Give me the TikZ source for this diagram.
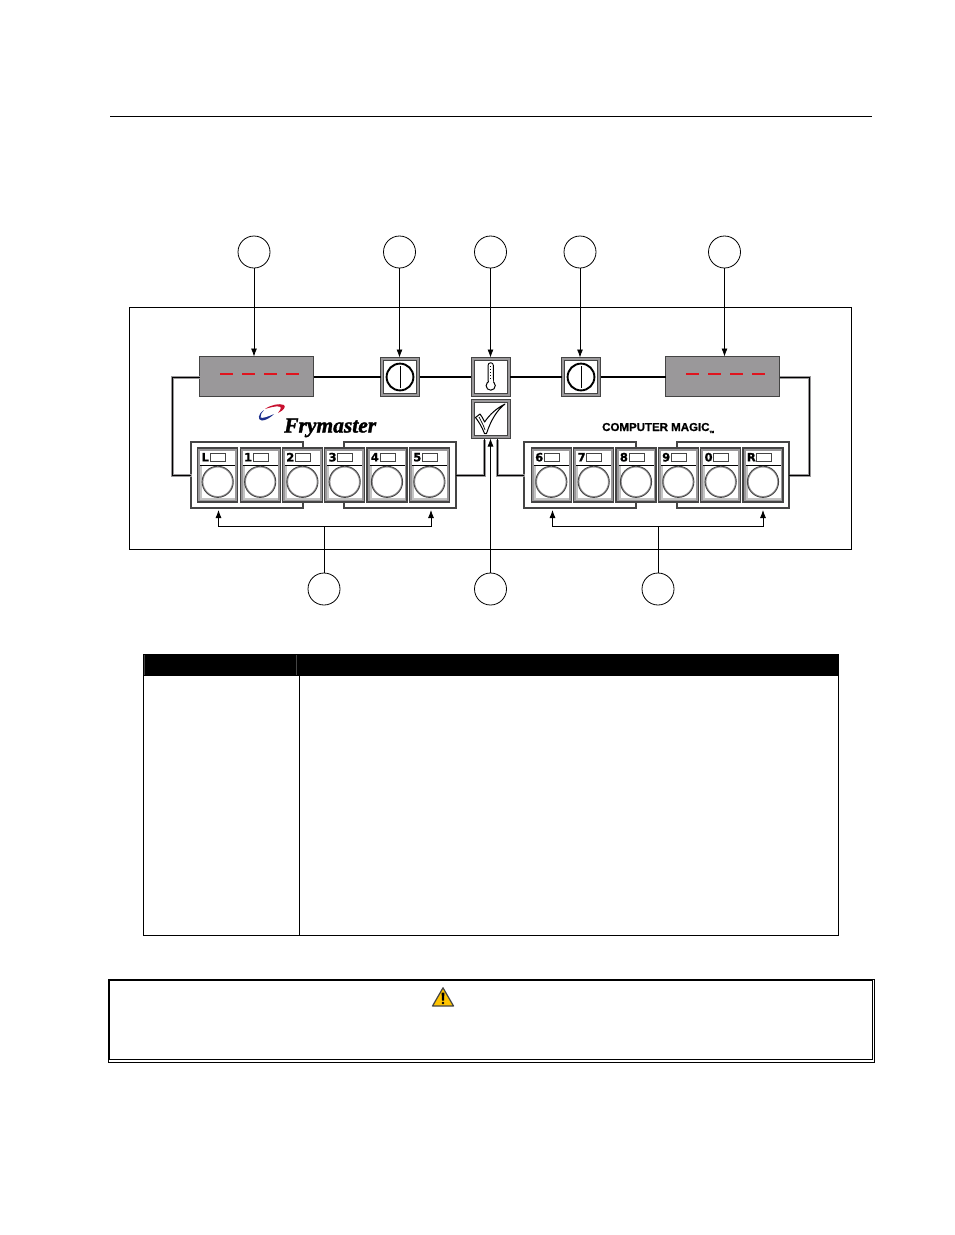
\documentclass[tikz,border=0pt]{standalone}
\usepackage{fontspec}
\usetikzlibrary{arrows.meta}
\newfontface\keyface[FakeBold=1.2]{DejaVu Sans Bold}
\newfontface\fryface[FakeBold=1.6]{Liberation Serif Bold Italic}
\newfontface\cmface[FakeBold=.8]{Liberation Sans Bold}
\definecolor{dgray}{HTML}{444444}
\definecolor{mgray}{HTML}{9A989A}
\definecolor{lgray}{HTML}{C4C4C4}
\definecolor{segred}{HTML}{E0141E}
\definecolor{fryblue}{HTML}{1C2F8C}
\definecolor{fryred}{HTML}{C8102E}
\definecolor{warnyel}{HTML}{FFC400}
\tikzset{
  callout/.style={circle,draw=black,line width=.8pt,minimum size=32pt,inner sep=0pt,outer sep=0pt,fill=white},
  display/.style={rectangle,draw=dgray,line width=1pt,fill=mgray,minimum width=114pt,minimum height=40pt,inner sep=0pt,outer sep=0pt},
  iconbox/.style={rectangle,draw=dgray,line width=1.3pt,fill=mgray,minimum width=39pt,minimum height=39pt,inner sep=0pt,outer sep=0pt},
  iconface/.style={rectangle,fill=white,draw=dgray,line width=.6pt,minimum width=32.5pt,minimum height=32.5pt,inner sep=0pt},
  keybox/.style={rectangle,draw=dgray,line width=1.1pt,fill=mgray,minimum width=40pt,minimum height=54pt,inner sep=0pt,outer sep=0pt},
  grp/.style={rectangle,draw=dgray,line width=2pt,fill=white,minimum width=112pt,minimum height=66.6pt,inner sep=0pt,outer sep=0pt},
  ptr/.style={draw=black,line width=.8pt,-{Latex[length=8pt,width=6pt]}},
  plain/.style={draw=black,line width=.8pt},
  busline/.style={draw=black,line width=1.5pt},
  conn/.style={draw=black,line width=.9pt,line join=miter,preaction={draw=mgray,line width=2.8pt,transform canvas={xshift=.5pt,yshift=-.6pt}}},
  segment/.style={draw=segred,line width=2.4pt},
}
\newcommand{\keypanel}[3]{%
  \node[keybox] (#1) at (#3+20,475) {};
  \fill[white] (#3+2.5,450.5) rectangle (#3+37.5,500);
  \fill[lgray] (#3+2.5,465.5) rectangle (#3+4.5,499.5);
  \fill[lgray] (#3+2.5,498) rectangle (#3+37.5,500);
  \draw[black,line width=.8pt] (#3+2.5,465) -- (#3+37.5,465);
  \draw[mgray,line width=1pt] (#3+20,481.8) circle[radius=14.8];
  \draw[dgray,line width=.9pt] (#3+20,481.8) circle[radius=15.6];
  \draw[dgray,line width=.6pt,fill=white] (#3+13,453) rectangle (#3+28,461);
  \node[font=\keyface\fontsize{11.5}{11.5}\selectfont,anchor=west,inner sep=0pt] (#1t) at (#3+3.7,457.2) {#2};
}
\newcommand{\powerbtn}[2]{%
  \node[iconbox] (#1) at (#2,377) {};
  \node[iconface] at (#1) {};
  \draw[black,line width=1.9pt] (#2,377) circle[radius=13.4];
  \draw[black,line width=.8pt] (#2,366) -- (#2,388);
}
\begin{document}
\begin{tikzpicture}[x=1pt,y=-1pt]
\useasboundingbox (0,0) rectangle (954,1235);
% head rule
\coordinate (ruleA) at (110,116.5);
\coordinate (ruleB) at (872,116.5);
\draw[black,line width=.9pt] (ruleA) -- (ruleB);
% panel
\node[rectangle,draw=black,line width=.9pt,minimum width=722pt,minimum height=242pt,inner sep=0pt] (panel) at (490.5,428.5) {};
% displays
\node[display] (dispL) at (256.5,376.5) {};
\node[display] (dispR) at (722.5,376.5) {};
\foreach \a in {220,242,264,286}{\draw[segment] (\a,374) -- (\a+13,374);}
\foreach \a in {686,708,730,752}{\draw[segment] (\a,374) -- (\a+13,374);}
% buttons
\powerbtn{pwrL}{400}
\powerbtn{pwrR}{581}
\node[iconbox] (therm) at (490.7,377) {};
\node[iconface] at (therm) {};
\node[iconbox] (chk) at (490.7,419) {};
\node[iconface] at (chk) {};
% thermometer
\draw[black,line width=.9pt,fill=white,rounded corners=2.4pt] (488.1,383) rectangle (493.3,362.8);
\draw[black,line width=1pt,fill=white] (490.7,385.6) circle[radius=4.6];
\fill[white] (488.8,379) rectangle (492.6,383.5);
\foreach \q in {366,369,372,375,378}{\fill[black] (490.1,\q) rectangle (491.3,\q+1);}
% check mark
\draw[black,line width=1pt,fill=white,line join=round] (475.5,417.5) -- (480,414) .. controls (481.5,416) and (483.5,419) .. (484.6,422)
  .. controls (490,414) and (497,408) .. (505,404)
  .. controls (497,410) and (491,420) .. (486.5,433.5) -- (484.5,433.5) .. controls (482,427) and (479,422) .. (475.5,417.5) -- cycle;
\draw[black,line width=.7pt] (479,417) .. controls (481,421) and (483.5,425) .. (485,430);
% key groups
\node[grp] (gL1) at (247.2,475) {};
\node[grp] (gL2) at (400.2,475) {};
\node[grp] (gR1) at (580.2,475) {};
\node[grp] (gR2) at (733.3,475) {};
\keypanel{kL}{L}{197.7}
\keypanel{kA}{1}{240.2}
\keypanel{kB}{2}{282.4}
\keypanel{kC}{3}{324.7}
\keypanel{kD}{4}{367}
\keypanel{kE}{5}{409.4}
\keypanel{kF}{6}{531.3}
\keypanel{kG}{7}{573.7}
\keypanel{kH}{8}{616}
\keypanel{kI}{9}{658.3}
\keypanel{kJ}{0}{700.7}
\keypanel{kR}{R}{743}
% logos
\fill[fryblue] (264,410) .. controls (258,414) and (257,420) .. (262,420.5) .. controls (266,420.5) and (271,417) .. (274,414) .. controls (270,416) and (262,419) .. (260.5,417.5) .. controls (260,415) and (262,412) .. (264,410) -- cycle;
\fill[fryred] (265,409) .. controls (270,405) and (280,403) .. (284,405) .. controls (286,407) and (284,410) .. (278,413) .. controls (281,409) and (282,407) .. (279,406.5) .. controls (275,406) and (270,407.5) .. (265,409) -- cycle;
\node[anchor=base west,inner sep=0pt,font=\fryface\fontsize{21.5}{21.5}\selectfont] (frylogo) at (284,432.5) {Frymaster};
\node[anchor=base west,inner sep=0pt,font=\cmface\fontsize{11.5}{11.5}\selectfont] (cmlogo) at (602,431) {COMPUTER MAGIC};
\node[anchor=base west,inner sep=0pt,font=\cmface\fontsize{3}{3}\selectfont] (cmtm) at (709.5,433) {TM};
% callouts
\node[callout] (c1) at (254,252) {};
\node[callout] (c2) at (399.5,252) {};
\node[callout] (c3) at (490.5,252) {};
\node[callout] (c4) at (580,252) {};
\node[callout] (c5) at (724.5,252) {};
\node[callout] (c6) at (324,589) {};
\node[callout] (c7) at (490.5,589) {};
\node[callout] (c8) at (658,589) {};
\draw[ptr] (c1) -- (c1 |- dispL.north);
\draw[ptr] (c2) -- (c2 |- pwrL.north);
\draw[ptr] (c3) -- (c3 |- therm.north);
\draw[ptr] (c4) -- (c4 |- pwrR.north);
\draw[ptr] (c5) -- (c5 |- dispR.north);
\draw[ptr] (c7) -- (c7 |- chk.south);
% bottom brackets
\coordinate (brL) at (324,526);
\coordinate (brLa) at (218.5,510);
\coordinate (brLb) at (431,510);
\coordinate (brR) at (658,526);
\coordinate (brRa) at (552.5,510);
\coordinate (brRb) at (763,510);
\draw[plain] (c6) -- (brL);
\draw[ptr] (brL) -| (brLa);
\draw[ptr] (brL) -| (brLb);
\draw[plain] (c8) -- (brR);
\draw[ptr] (brR) -| (brRa);
\draw[ptr] (brR) -| (brRb);
% bus
\coordinate (railL) at (172,377);
\coordinate (railR) at (809,377);
\draw[busline] (dispL.east |- pwrL) -- (pwrL);
\draw[busline] (pwrL) -- (therm);
\draw[busline] (therm) -- (pwrR);
\draw[busline] (pwrR) -- (dispR.west |- pwrR);
\coordinate (chkA) at (484,439);
\coordinate (chkB) at (497,439);
\draw[conn] (dispL.west |- railL) -- (railL) |- (gL1.west);
\draw[conn] (dispR.east |- railR) -- (railR) |- (gR2.east);
\draw[conn] (gL2.east) -| (chkA);
\draw[conn] (gR1.west) -| (chkB);
% table
\node[rectangle,fill=black,minimum width=694pt,minimum height=22pt,inner sep=0pt] (thead) at (491,665) {};
\draw[black,line width=.9pt] (143.7,654) rectangle (838.3,935.5);
\coordinate (colT) at (299.5,676);
\coordinate (colB) at (299.5,935.5);
\draw[black,line width=.9pt] (colT) -- (colB);
\coordinate (hA) at (144.5,655);
\coordinate (hB) at (144.5,675);
\coordinate (hC) at (296.5,655);
\coordinate (hD) at (296.5,675);
\draw[dgray,line width=.7pt] (hA) -- (hB);
\draw[dgray,line width=.7pt] (hC) -- (hD);
% warning box
\draw[black,line width=1.8pt] (109,1060.2) -- (109,980) -- (872.5,980) -- (872.5,1060.2) ;
\draw[black,line width=.8pt] (109,1059.8) -- (872.5,1059.8);
\draw[black,line width=.8pt] (108.4,1062) -- (874.5,1062) -- (874.5,979.4) -- (872,979.4);
\draw[black,line width=.8pt] (108.4,1062) -- (108.4,1059);
% warning sign
\draw[draw=dgray,line width=1.2pt,line join=round,fill=warnyel] (443,987.8) -- (453.5,1006) -- (432.5,1006) -- cycle;
\fill[black] (441.6,992.5) -- (444.4,992.5) -- (444,1000.5) -- (442,1000.5) -- cycle;
\fill[black] (443,1003) circle[radius=1.3];
\end{tikzpicture}
\end{document}
